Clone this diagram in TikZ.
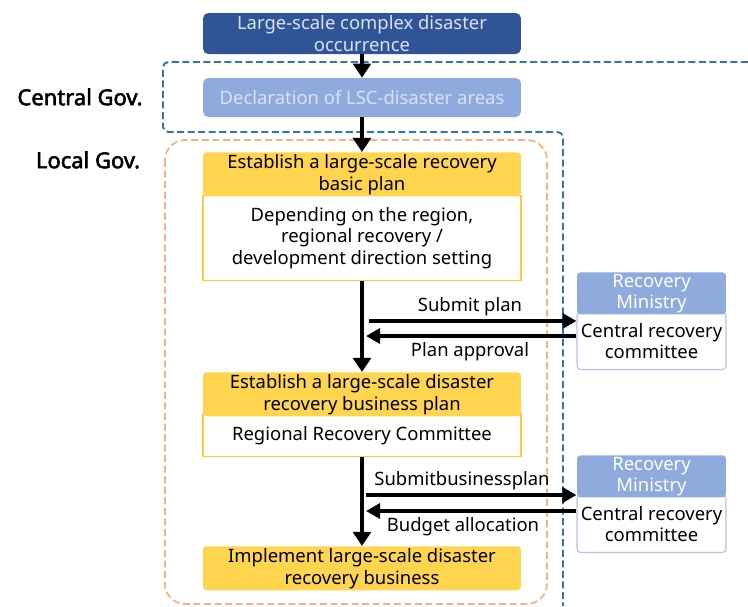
\documentclass[tikz,border=0pt]{standalone}
\usepackage{fontspec}
\setmainfont{Noto Sans}
\newfontfamily\govfont[FakeBold=2.5]{Noto Sans}
\usetikzlibrary{arrows.meta,calc}

\definecolor{navyfill}{HTML}{2F5597}
\definecolor{skyfill}{HTML}{8FAADC}
\definecolor{skytext}{HTML}{D9E2F3}
\definecolor{goldfill}{HTML}{FFD54F}
\definecolor{goldline}{HTML}{FFC83D}
\definecolor{govblue}{HTML}{2E75B6}
\definecolor{localorange}{HTML}{F4B183}

\tikzset{
	stepbox/.style={minimum width=6.36cm, align=center, inner sep=1pt, font=\fontsize{10.5}{12.5}\selectfont},
	headbox/.style={stepbox, fill=goldfill, rounded corners=2pt},
	bodybox/.style={stepbox, draw=goldline, line width=0.8pt, fill=white},
	minhead/.style={minimum width=2.98cm, align=center, inner sep=0pt, fill=skyfill, text=white, rounded corners=2pt, font=\fontsize{10.5}{12}\selectfont},
	minbody/.style={minimum width=2.98cm, align=center, inner sep=0pt, draw=skyfill!70, line width=0.6pt, fill=white, rounded corners=2pt, font=\fontsize{10.5}{12}\selectfont},
	mainarrow/.style={line width=2.8pt, -{Triangle[length=8pt, width=10pt]}},
	sidearrow/.style={line width=2pt, -{Triangle[length=8pt, width=8.5pt]}},
	govlabel/.style={font=\govfont\fontsize{12.5}{14}\selectfont},
	flowlabel/.style={font=\fontsize{10.5}{12}\selectfont}
}

\begin{document}
\begin{tikzpicture}[x=0.02cm, y=-0.02cm]
	\useasboundingbox (0,0) rectangle (748,606);

	% regions
	\draw[govblue, line width=1.1pt, dash pattern=on 4pt off 2pt, rounded corners=3pt] (748,62) -- (163,62) -- (163,132) -- (563,132) -- (563,606);
	\draw[localorange, line width=1pt, dash pattern=on 4pt off 2pt, rounded corners=0.4cm] (165,140) rectangle (547,604);
	\node[govlabel] (central) at (80,97) {Central Gov.};
	\node[govlabel] (local) at (88,160) {Local Gov.};

	% top steps
	\node[stepbox, fill=navyfill, text=skytext, rounded corners=3pt, minimum height=0.82cm] (occur) at (362,33.5) {Large-scale complex disaster\\occurrence};
	\node[stepbox, fill=skyfill, text=skytext, rounded corners=3pt, minimum height=0.78cm] (declare) at (362,97.5) {Declaration of LSC-disaster areas};

	% basic plan
	\node[bodybox, minimum height=1.7cm, anchor=north] (basic) at (362,195) {Depending on the region,\\regional recovery /\\development direction setting};
	\node[headbox, minimum height=0.88cm, anchor=north] (basichead) at (362,152) {Establish a large-scale recovery\\basic plan};

	% business plan
	\node[bodybox, minimum height=0.86cm, anchor=north] (business) at (362,413) {Regional Recovery Committee};
	\node[headbox, minimum height=0.84cm, anchor=north] (businesshead) at (362,372) {Establish a large-scale disaster\\recovery business plan};

	% implement
	\node[headbox, minimum height=0.88cm, anchor=north] (implement) at (362,546) {Implement large-scale disaster\\recovery business};

	% ministry boxes
	\node[minbody, minimum height=1.14cm, anchor=north] (committee) at (651.5,312) {Central recovery\\committee};
	\node[minhead, minimum height=0.84cm, anchor=north] (ministry) at (651.5,272) {Recovery\\Ministry};
	\node[minbody, minimum height=1.14cm, anchor=north] (committeeb) at (651.5,495) {Central recovery\\committee};
	\node[minhead, minimum height=0.84cm, anchor=north] (ministryb) at (651.5,455) {Recovery\\Ministry};

	% main flow
	\draw[mainarrow] (occur) -- (declare);
	\draw[mainarrow] (declare) -- (basichead);
	\draw[mainarrow] (basic) -- (businesshead);
	\draw[mainarrow] (business) -- (implement);

	% exchanges
	\coordinate (submit) at (369,321);
	\coordinate (approve) at (366,336);
	\draw[sidearrow] (submit) -- (submit -| committee.west);
	\draw[sidearrow] (approve -| committee.west) -- (approve);
	\node[flowlabel] (submittext) at (470,307) {Submit plan};
	\node[flowlabel] (approvetext) at (470,352) {Plan approval};

	\coordinate (submitb) at (366,495);
	\coordinate (budget) at (366,511);
	\draw[sidearrow] (submitb) -- (submitb -| committeeb.west);
	\draw[sidearrow] (budget -| committeeb.west) -- (budget);
	\node[flowlabel] (submitbtext) at (462,481) {Submitbusinessplan};
	\node[flowlabel] (budgettext) at (463,527) {Budget allocation};

\end{tikzpicture}
\end{document}
